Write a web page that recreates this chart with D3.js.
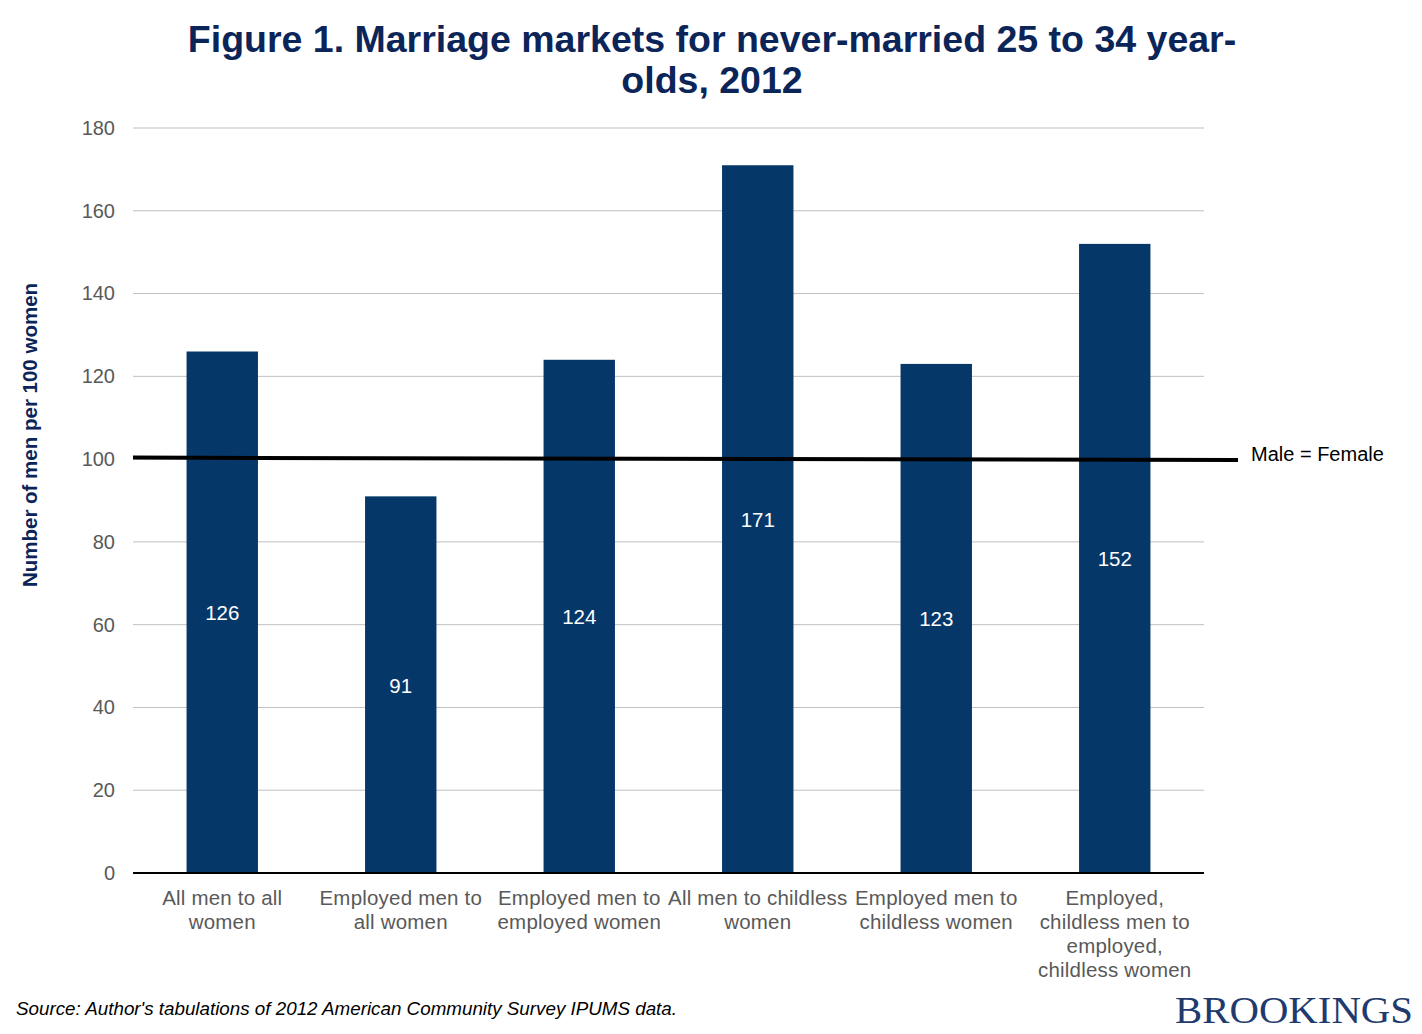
<!DOCTYPE html>
<html>
<head>
<meta charset="utf-8">
<title>Marriage markets</title>
<script src="https://d3js.org/d3.v7.min.js"></script>
<style>
  body { margin: 0; background: #fff; }
  text { font-family: "Liberation Sans", Arial, sans-serif; }
</style>
</head>
<body>
<script>
// data
var categories = [
  ["All men to all", "women"],
  ["Employed men to", "all women"],
  ["Employed men to", "employed women"],
  ["All men to childless", "women"],
  ["Employed men to", "childless women"],
  ["Employed,", "childless men to", "employed,", "childless women"]
];
var values = [126, 91, 124, 171, 123, 152];
var yTicks = [0, 20, 40, 60, 80, 100, 120, 140, 160, 180];
var refValue = 100;

var W = 1422, H = 1034;
var svg = d3.select("body").append("svg")
    .attr("width", W).attr("height", H);

var x = d3.scaleBand()
    .domain(d3.range(values.length))
    .range([133, 1204])
    .paddingInner(0.6).paddingOuter(0.3);

var y = d3.scaleLinear().domain([0, 180]).range([873, 128]);

// title
svg.append("text")
    .attr("x", 712).attr("y", 52)
    .attr("text-anchor", "middle")
    .attr("font-size", 37.5).attr("font-weight", "bold")
    .attr("fill", "#0b2559")
    .text("Figure 1. Marriage markets for never-married 25 to 34 year-");
svg.append("text")
    .attr("x", 712).attr("y", 93)
    .attr("text-anchor", "middle")
    .attr("font-size", 37.5).attr("font-weight", "bold")
    .attr("fill", "#0b2559")
    .text("olds, 2012");

// grid
svg.append("g").selectAll("line")
    .data(yTicks.filter(function(d) { return d > 0; }))
    .join("line")
    .attr("x1", 133).attr("x2", 1204)
    .attr("y1", function(d) { return y(d); })
    .attr("y2", function(d) { return y(d); })
    .attr("stroke", "#c0c0c0").attr("stroke-width", 1);

// y axis
var yAxis = d3.axisLeft(y).tickValues(yTicks).tickSize(0).tickPadding(18);
var gy = svg.append("g").attr("transform", "translate(133,0)").call(yAxis);
gy.select(".domain").remove();
gy.selectAll("text")
    .attr("font-size", 20).attr("fill", "#595959")
    .style("font-family", "'Liberation Sans', Arial, sans-serif");

svg.append("text")
    .attr("transform", "translate(37,435) rotate(-90)")
    .attr("text-anchor", "middle")
    .attr("font-size", 20.5).attr("font-weight", "bold")
    .attr("fill", "#0b2559")
    .text("Number of men per 100 women");

// bars
svg.append("g").selectAll("rect")
    .data(values)
    .join("rect")
    .attr("x", function(d, i) { return x(i); })
    .attr("width", x.bandwidth())
    .attr("y", function(d) { return y(d); })
    .attr("height", function(d) { return y(0) - y(d); })
    .attr("fill", "#063769");

// value labels
svg.append("g").selectAll("text")
    .data(values)
    .join("text")
    .attr("x", function(d, i) { return x(i) + x.bandwidth() / 2; })
    .attr("y", function(d) { return (y(d) + y(0)) / 2 + 8; })
    .attr("text-anchor", "middle")
    .attr("font-size", 20.5).attr("fill", "#ffffff")
    .text(function(d) { return d; });

// baseline
svg.append("line")
    .attr("x1", 133).attr("x2", 1204)
    .attr("y1", y(0)).attr("y2", y(0))
    .attr("stroke", "#000").attr("stroke-width", 2);

// reference line
svg.append("line")
    .attr("x1", 133).attr("x2", 1238)
    .attr("y1", y(refValue) - 1.5).attr("y2", y(refValue) + 1)
    .attr("stroke", "#000").attr("stroke-width", 4);
svg.append("text")
    .attr("x", 1251).attr("y", y(refValue) + 2)
    .attr("font-size", 20).attr("fill", "#000")
    .text("Male = Female");

// x labels
var xl = svg.append("g").selectAll("text")
    .data(categories)
    .join("text")
    .attr("x", function(d, i) { return x(i) + x.bandwidth() / 2; })
    .attr("y", 905)
    .attr("text-anchor", "middle")
    .attr("font-size", 20.5).attr("letter-spacing", 0.2)
    .attr("fill", "#595959");
xl.selectAll("tspan")
    .data(function(d) { return d; })
    .join("tspan")
    .attr("x", function() { return d3.select(this.parentNode).attr("x"); })
    .attr("dy", function(d, i) { return i === 0 ? 0 : 24; })
    .text(function(d) { return d; });

// source
svg.append("text")
    .attr("x", 16).attr("y", 1015)
    .attr("font-size", 18).attr("font-style", "italic")
    .attr("textLength", 661).attr("lengthAdjust", "spacingAndGlyphs")
    .attr("fill", "#000")
    .text("Source: Author's tabulations of 2012 American Community Survey IPUMS data.");

// logo
svg.append("text")
    .attr("x", 1175).attr("y", 1023)
    .attr("font-size", 38)
    .attr("textLength", 238).attr("lengthAdjust", "spacingAndGlyphs")
    .attr("fill", "#213a6e")
    .style("font-family", "'Liberation Serif', 'Times New Roman', serif")
    .text("BROOKINGS");
</script>
</body>
</html>
